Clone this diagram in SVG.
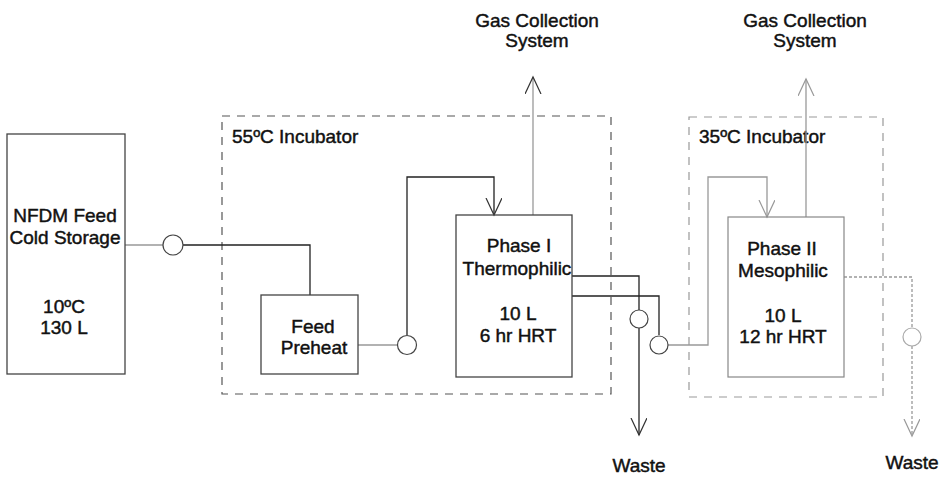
<svg xmlns="http://www.w3.org/2000/svg" width="943" height="477" viewBox="0 0 943 477">
  <defs>
    <style>
      text { font-family: "Liberation Sans", Arial, sans-serif; font-size: 19px; fill: #111; stroke: #111; stroke-width: 0.45; text-anchor: middle; }
      .left { text-anchor: start; }
      .box { fill: none; stroke: #444; stroke-width: 1.3; }
      .box-light { fill: none; stroke: #888; stroke-width: 1.2; }
      .zone { fill: none; stroke: #555; stroke-width: 1.2; stroke-dasharray: 8 7; }
      .zone-light { fill: none; stroke: #999; stroke-width: 1.2; stroke-dasharray: 8 7; }
      .pipe { fill: none; stroke: #222; stroke-width: 1.3; }
      .pipe-light { fill: none; stroke: #999; stroke-width: 1.3; }
      .pipe-dotted { fill: none; stroke: #999; stroke-width: 1.3; stroke-dasharray: 3 2; }
      .pump { fill: #fff; stroke: #444; stroke-width: 1.2; }
      .pump-light { fill: #fff; stroke: #aaa; stroke-width: 1.2; }
    </style>
    <marker id="arrow" markerUnits="userSpaceOnUse" markerWidth="20" markerHeight="20" refX="17" refY="8" orient="auto">
      <path d="M0,0 L17,8 L0,16" fill="none" stroke="#333" stroke-width="1.2"/>
    </marker>
    <marker id="arrow-light" markerUnits="userSpaceOnUse" markerWidth="20" markerHeight="20" refX="17" refY="8" orient="auto">
      <path d="M0,0 L17,8 L0,16" fill="none" stroke="#999" stroke-width="1.2"/>
    </marker>
  </defs>

  <!-- incubator zones -->
  <g id="incubator-55">
    <rect class="zone" x="222" y="116" width="389" height="278"/>
    <text class="left" x="232" y="143">55ºC Incubator</text>
  </g>
  <g id="incubator-35">
    <rect class="zone-light" x="689" y="117" width="194" height="280"/>
    <text class="left" x="699" y="143">35ºC Incubator</text>
  </g>

  <!-- piping -->
  <g id="connectors">
    <!-- feed line -->
    <path class="pipe-light" d="M125,245 H163"/>
    <path class="pipe" d="M183,245 H310 V295"/>
    <!-- preheat to phase I -->
    <path class="pipe-light" d="M358,345 H397"/>
    <path class="pipe" d="M407,335 V177 H494 V215" marker-end="url(#arrow)"/>
    <!-- phase I gas -->
    <path class="pipe-light" d="M533,215 V77" marker-end="url(#arrow)"/>
    <!-- phase I effluent to waste -->
    <path class="pipe" d="M572,276 H639 V310"/>
    <path class="pipe" d="M639,328 V435" marker-end="url(#arrow)"/>
    <!-- phase I transfer to phase II -->
    <path class="pipe" d="M572,296 H659 V335"/>
    <path class="pipe-light" d="M668,345 H708 V177 H767 V217" marker-end="url(#arrow-light)"/>
    <!-- phase II gas -->
    <path class="pipe-light" d="M806,217 V79" marker-end="url(#arrow-light)"/>
    <!-- phase II effluent to waste -->
    <path class="pipe-dotted" d="M844,277 H912 V328"/>
    <path class="pipe-dotted" d="M912,346 V436" marker-end="url(#arrow-light)"/>
  </g>

  <!-- pumps -->
  <g id="pump-feed"><circle class="pump" cx="173" cy="245" r="10"/></g>
  <g id="pump-preheat"><circle class="pump" cx="407" cy="345" r="9.5"/></g>
  <g id="pump-waste-1"><circle class="pump" cx="639" cy="319" r="9"/></g>
  <g id="pump-transfer"><circle class="pump" cx="659" cy="345" r="9"/></g>
  <g id="pump-waste-2"><circle class="pump-light" cx="912" cy="337" r="9"/></g>

  <!-- vessels -->
  <g id="cold-storage">
    <rect class="box" x="7" y="134" width="118" height="240"/>
    <text x="65" y="222">NFDM Feed</text>
    <text x="65" y="244">Cold Storage</text>
    <text x="64" y="313">10ºC</text>
    <text x="64" y="334">130 L</text>
  </g>
  <g id="feed-preheat">
    <rect class="box" x="261" y="295" width="97" height="79"/>
    <text x="313" y="333">Feed</text>
    <text x="314" y="354">Preheat</text>
  </g>
  <g id="phase-1">
    <rect class="box" x="456" y="215" width="116" height="162"/>
    <text x="519" y="252">Phase I</text>
    <text x="517" y="275">Thermophilic</text>
    <text x="518" y="320">10 L</text>
    <text x="518" y="342">6 hr HRT</text>
  </g>
  <g id="phase-2">
    <rect class="box-light" x="728" y="217" width="116" height="160"/>
    <text x="782" y="255">Phase II</text>
    <text x="783" y="277">Mesophilic</text>
    <text x="783" y="322">10 L</text>
    <text x="783" y="343">12 hr HRT</text>
  </g>

  <!-- outlets -->
  <g id="gas-1">
    <text x="537" y="27">Gas Collection</text>
    <text x="537" y="47">System</text>
  </g>
  <g id="gas-2">
    <text x="805" y="27">Gas Collection</text>
    <text x="805" y="47">System</text>
  </g>
  <g id="waste-1"><text x="639" y="472">Waste</text></g>
  <g id="waste-2"><text x="912" y="469">Waste</text></g>
</svg>
